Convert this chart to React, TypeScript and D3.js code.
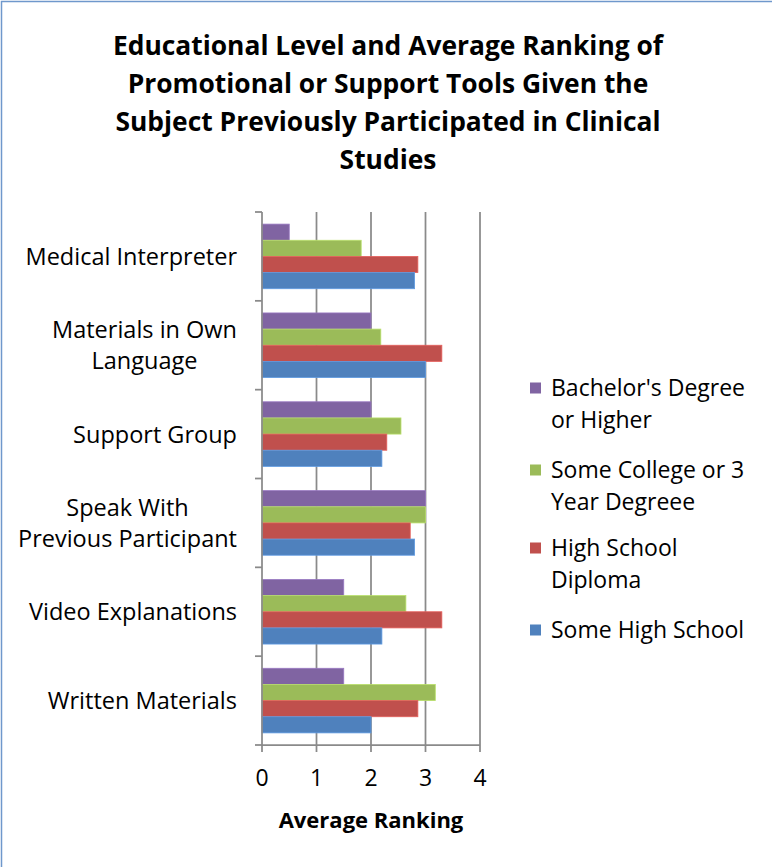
import React, { useEffect, useRef } from "react";
import * as d3 from "d3";

const categories = [
  "Medical Interpreter",
  "Materials in Own Language",
  "Support Group",
  "Speak With Previous Participant",
  "Video Explanations",
  "Written Materials",
];
const categoryLines = [
  ["Medical Interpreter"],
  ["Materials in Own", "Language"],
  ["Support Group"],
  ["Speak With", "Previous Participant"],
  ["Video Explanations"],
  ["Written Materials"],
];
const seriesNames = [
  "Bachelor's Degree or Higher",
  "Some College or 3 Year Degreee",
  "High School Diploma",
  "Some High School",
];
const seriesLines = [
  ["Bachelor's Degree", "or Higher"],
  ["Some College or 3", "Year Degreee"],
  ["High School", "Diploma"],
  ["Some High School"],
];
const bachelor = [0.5, 2.0, 2.0, 3.0, 1.5, 1.5];
const someCollege = [1.82, 2.18, 2.55, 3.0, 2.64, 3.18];
const hsDiploma = [2.86, 3.3, 2.29, 2.72, 3.3, 2.86];
const someHS = [2.8, 3.0, 2.2, 2.8, 2.2, 2.0];
const seriesValues = [bachelor, someCollege, hsDiploma, someHS];
const seriesColors = ["#8064A2", "#9BBB59", "#C0504D", "#4F81BD"];
const xTicks = [0, 1, 2, 3, 4];
const titleLines = [
  "Educational Level and Average Ranking of",
  "Promotional or Support Tools Given the",
  "Subject Previously Participated in Clinical",
  "Studies",
];
const xTitle = "Average Ranking";

const W = 772;
const H = 867;
const FONT = "'Open Sans', sans-serif";

export default function App() {
  const ref = useRef<SVGSVGElement>(null);
  useEffect(() => {
    const svg = d3.select(ref.current);
    svg.selectAll("*").remove();

    svg
      .append("path")
      .attr("d", `M1.5,${H} V1.5 H${W}`)
      .attr("fill", "none")
      .attr("stroke", "#6F98CC")
      .attr("stroke-width", 1.5);

    // title
    const title = svg
      .append("text")
      .attr("font-family", FONT)
      .attr("font-weight", "bold")
      .attr("font-size", 26.4)
      .attr("text-anchor", "middle")
      .attr("fill", "#000");
    titleLines.forEach((t, i) => {
      title
        .append("tspan")
        .attr("x", 388)
        .attr("y", 45 + i * 38)
        .attr("dy", "0.36em")
        .text(t);
    });

    const x = d3.scaleLinear().domain([0, 4]).range([262, 480]);
    const y = d3.scaleBand().domain(categories).range([212, 745]).padding(0);
    const bw = y.bandwidth();
    const barH = bw / 5.5;
    const inner = d3
      .scaleBand()
      .domain(seriesNames)
      .range([0.75 * barH, bw - 0.75 * barH])
      .padding(0);

    // gridlines
    const grid = svg.append("g");
    xTicks
      .filter((t) => t > 0)
      .forEach((t) => {
        grid
          .append("line")
          .attr("x1", x(t))
          .attr("x2", x(t))
          .attr("y1", 212)
          .attr("y2", 745)
          .attr("stroke", "#8A8A8A")
          .attr("stroke-width", 1.75);
      });

    // bars
    const bars = svg.append("g");
    seriesNames.forEach((s, si) => {
      const col = seriesColors[si];
      bars
        .selectAll(`rect.s${si}`)
        .data(seriesValues[si])
        .join("rect")
        .attr("class", `s${si}`)
        .attr("x", x(0))
        .attr("y", (_d, i) => (y(categories[i]) as number) + (inner(s) as number))
        .attr("width", (d) => x(d) - x(0))
        .attr("height", inner.bandwidth())
        .attr("fill", col)
        .attr("stroke", d3.color(col)!.brighter(0.5).toString())
        .attr("stroke-width", 0.8);
    });

    // axes
    const ax = svg.append("g").attr("stroke", "#8A8A8A").attr("stroke-width", 1.75);
    ax.append("line").attr("x1", x(0)).attr("x2", x(0)).attr("y1", 212).attr("y2", 745);
    ax.append("line").attr("x1", x(0)).attr("x2", x(4)).attr("y1", 745).attr("y2", 745);
    const bounds = categories.map((c) => y(c) as number).concat([745]);
    bounds.forEach((b) => {
      ax.append("line").attr("x1", x(0) - 7).attr("x2", x(0)).attr("y1", b).attr("y2", b);
    });
    xTicks.forEach((t) => {
      ax.append("line").attr("x1", x(t)).attr("x2", x(t)).attr("y1", 745).attr("y2", 752);
    });

    // x tick labels
    svg
      .append("g")
      .selectAll("text")
      .data(xTicks)
      .join("text")
      .attr("x", (d) => x(d))
      .attr("y", 778)
      .attr("dy", "0.36em")
      .attr("text-anchor", "middle")
      .attr("font-family", FONT)
      .attr("font-size", 23)
      .text((d) => String(d));

    svg
      .append("text")
      .attr("x", (x(0) + x(4)) / 2)
      .attr("y", 820)
      .attr("dy", "0.36em")
      .attr("text-anchor", "middle")
      .attr("font-family", FONT)
      .attr("font-weight", "bold")
      .attr("font-size", 22)
      .text(xTitle);

    // category labels
    const labelRight = 237;
    const lineH = 31.5;
    categories.forEach((c, ci) => {
      const lines = categoryLines[ci];
      const cy = (y(c) as number) + bw / 2;
      const g = svg.append("g");
      const texts = lines.map((l, li) =>
        g
          .append("text")
          .attr("y", cy + (li - (lines.length - 1) / 2) * lineH)
          .attr("dy", "0.36em")
          .attr("font-family", FONT)
          .attr("font-size", 23.5)
          .attr("text-anchor", "middle")
          .text(l)
      );
      const widths = texts.map((t) => (t.node() as SVGTextElement).getComputedTextLength());
      const maxW = Math.max(...widths);
      texts.forEach((t) => t.attr("x", labelRight - maxW / 2));
    });

    // legend
    const legendY = [388, 470, 548, 630];
    seriesNames.forEach((s, si) => {
      const ly = legendY[si];
      svg
        .append("rect")
        .attr("x", 530)
        .attr("y", ly - 5.5)
        .attr("width", 11)
        .attr("height", 11)
        .attr("fill", seriesColors[si]);
      seriesLines[si].forEach((l, li) => {
        svg
          .append("text")
          .attr("x", 551)
          .attr("y", ly + li * 31.5)
          .attr("dy", "0.36em")
          .attr("font-family", FONT)
          .attr("font-size", 23)
          .text(l);
      });
    });
  }, []);

  return (
    <svg
      ref={ref}
      width={W}
      height={H}
      style={{ position: "absolute", left: 0, top: 0, background: "#fff" }}
    />
  );
}
